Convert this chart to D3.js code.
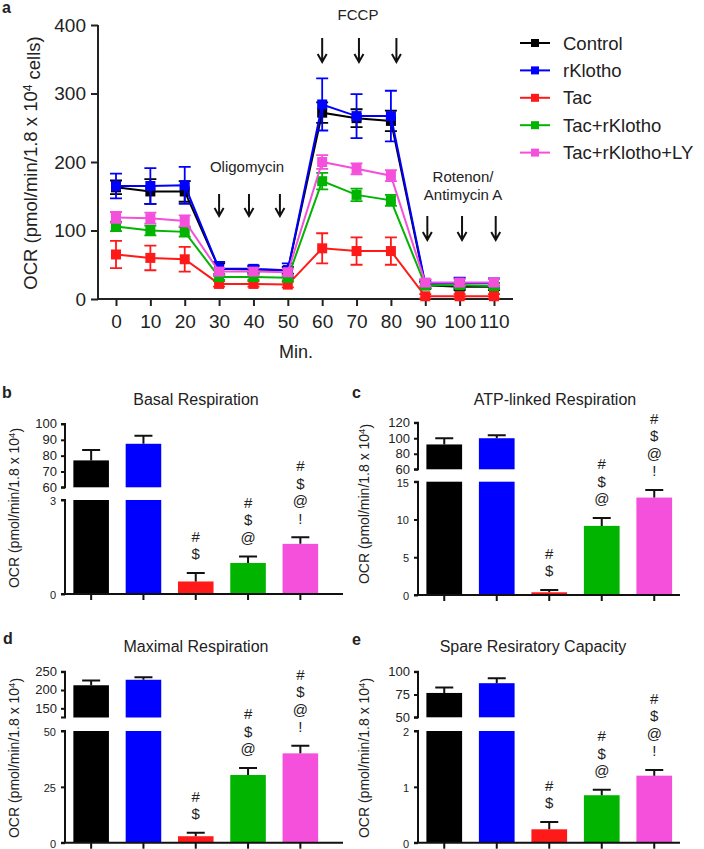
<!DOCTYPE html>
<html><head><meta charset="utf-8">
<script src="https://cdn.jsdelivr.net/npm/d3@7"></script>
<style>
body{margin:0;background:#fff}
text{font-family:"Liberation Sans",Arial,Helvetica,sans-serif;fill:#222}
</style>
</head><body>
<svg id="fig" width="704" height="849"></svg>
<script>
// ---------------- DATA ----------------
const groups = ["Control","rKlotho","Tac","Tac+rKlotho","Tac+rKlotho+LY"];
const groupColors = ["#000000","#0000ff","#ff1a1a","#00b400","#f550dc"];
const timePoints = [0,10,20,30,40,50,60,70,80,90,100,110];
const xTickLabels = ["0","10","20","30","40","50","60","70","80","90","100","110"];
const yTicksA = [0,100,200,300,400];

const ocrControl   = [163,157,157,44,43,42,272,264,260,20,18,18];
const errControl   = [10,18,15,8,5,5,15,13,15,5,5,5];
const ocrRKlotho   = [165,165,166,44,44,42,284,267,267,22,23,23];
const errRKlotho   = [18,26,27,10,5,10,38,32,37,6,8,7];
const ocrTac       = [65,60,58,22,22,21,74,70,70,4,4,4];
const errTac       = [20,18,18,4,4,4,22,20,20,3,3,3];
const ocrTacRK     = [106,100,98,32,32,31,172,152,144,20,20,19];
const errTacRK     = [7,7,7,4,4,4,12,9,8,4,4,4];
const ocrTacRKLY   = [119,118,114,40,40,39,200,190,180,24,24,24];
const errTacRKLY   = [8,8,8,5,5,5,10,8,8,5,5,5];

const oligomycinTimes = [30,38.7,47.7];
const fccpTimes = [60,70.7,81.6];
const rotenonTimes = [90.6,100.7,110.5];

const basalValues = [77,87.5,0.4,0.99,1.6];
const basalErrors = [6.5,5,0.27,0.21,0.21];
const atpValues   = [92,100,0.36,9.15,12.9];
const atpErrors   = [8,4,0.3,1.05,1.0];
const maxValues   = [213,228,2.9,30.3,40];
const maxErrors   = [13,7,1.5,3.1,3.4];
const spareValues = [76.7,87.4,0.24,0.85,1.2];
const spareErrors = [6.1,5.3,0.13,0.1,0.1];

const basalUpperTicks = [60,70,80,90,100], basalLowerTicks = [0,3];
const atpUpperTicks = [60,80,100,120], atpLowerTicks = [0,5,10,15];
const maxUpperTicks = [150,200,250], maxLowerTicks = [0,25,50];
const spareUpperTicks = [50,75,100], spareLowerTicks = [0,1,2];

const sigMarks = [[],[],["#","$"],["#","$","@"],["#","$","@","!"]];

// ---------------- DRAW ----------------
const svg = d3.select("#fig");

// Panel a
const series = [
  {v:ocrControl,e:errControl},{v:ocrRKlotho,e:errRKlotho},{v:ocrTac,e:errTac},
  {v:ocrTacRK,e:errTacRK},{v:ocrTacRKLY,e:errTacRKLY}
];
const xA = d3.scaleLinear().domain([0,110]).range([116,494]);
const yA = d3.scaleLinear().domain([0,400]).range([299,25]);
const gA = svg.append("g");

const yAxA = d3.axisLeft(yA).tickValues(yTicksA).tickSize(7).tickPadding(5).tickFormat(d3.format("d"));
const gy = gA.append("g").attr("transform","translate(98,0)").call(yAxA);
gy.select(".domain").attr("d","M0,25V299");
gy.selectAll("text").style("font-size","19px").attr("fill","#222");
gy.selectAll("line,path").attr("stroke","#222").attr("stroke-width",2);

const xAxA = d3.axisBottom(xA).tickValues(timePoints).tickSize(7).tickPadding(4)
  .tickFormat((d,i)=>xTickLabels[i]);
const gx = gA.append("g").attr("transform","translate(0,299)").call(xAxA);
gx.select(".domain").attr("d","M98,0H513");
gx.selectAll("text").style("font-size","19px").attr("fill","#222").attr("dy","0.95em");
gx.selectAll("line,path").attr("stroke","#222").attr("stroke-width",2);

gA.append("text").attr("x",296).attr("y",358).attr("text-anchor","middle").style("font-size","18px").text("Min.");
const yl = gA.append("text").attr("transform","translate(37,163) rotate(-90)").attr("text-anchor","middle").style("font-size","18.5px");
yl.append("tspan").text("OCR (pmol/min/1.8 x 10");
yl.append("tspan").attr("dy","-0.45em").style("font-size","12px").text("4");
yl.append("tspan").attr("dy","0.45em").text(" cells)");

const line = d3.line().x((d,i)=>xA(timePoints[i])).y(d=>yA(d));
series.forEach((s,k)=>{
  const col = groupColors[k];
  const g = gA.append("g");
  s.v.forEach((v,i)=>{
    const x = xA(timePoints[i]);
    g.append("path").attr("d",`M${x},${yA(v-s.e[i])}V${yA(v+s.e[i])}M${x-6},${yA(v-s.e[i])}h12M${x-6},${yA(v+s.e[i])}h12`)
      .attr("stroke",col).attr("stroke-width",1.8).attr("fill","none");
  });
  g.append("path").attr("d",line(s.v)).attr("stroke",col).attr("stroke-width",2).attr("fill","none");
  g.selectAll("rect").data(s.v).join("rect")
    .attr("x",(d,i)=>xA(timePoints[i])-5).attr("y",d=>yA(d)-5)
    .attr("width",10).attr("height",10).attr("fill",col);
});

function arrows(times,y1,y2){
  times.forEach(t=>{
    const x = xA(t);
    gA.append("path").attr("d",`M${x},${y1}V${y2}M${x-4.5},${y2-8}L${x},${y2}L${x+4.5},${y2-8}`)
      .attr("stroke","#111").attr("stroke-width",2).attr("fill","none");
  });
}
arrows(oligomycinTimes,194,216);
arrows(fccpTimes,38,62);
arrows(rotenonTimes,216,240);
gA.append("text").attr("x",247).attr("y",172).attr("text-anchor","middle").style("font-size","15px").text("Oligomycin");
gA.append("text").attr("x",358).attr("y",20).attr("text-anchor","middle").style("font-size","15px").text("FCCP");
gA.append("text").attr("x",463).attr("y",182).attr("text-anchor","middle").style("font-size","15px").text("Rotenon/");
gA.append("text").attr("x",463).attr("y",200).attr("text-anchor","middle").style("font-size","15px").text("Antimycin A");

const leg = gA.append("g");
groups.forEach((gname,i)=>{
  const y = 43 + i*27.4;
  leg.append("line").attr("x1",520).attr("x2",550).attr("y1",y).attr("y2",y).attr("stroke",groupColors[i]).attr("stroke-width",2);
  leg.append("rect").attr("x",531).attr("y",y-4).attr("width",8).attr("height",8).attr("fill",groupColors[i]);
  leg.append("text").attr("x",563).attr("y",y+6.5).style("font-size","18.5px").text(gname);
});

[["a",2,13],["b",2,398],["c",352,398],["d",3,644],["e",352,645]].forEach(([t,x,y])=>{
  svg.append("text").attr("x",x).attr("y",y).style("font-size","16px").style("font-weight","bold").attr("fill","#000").text(t);
});

function barPanel(o){
  const g = svg.append("g");
  const yU = d3.scaleLinear().domain(o.upDom).range(o.upRange);
  const yL = d3.scaleLinear().domain(o.loDom).range(o.loRange);
  const xB = d3.scaleBand().domain(groups).range(o.xRange).paddingInner(0.32).paddingOuter(0.16);
  const yBase = o.loRange[0];
  o.values.forEach((v,i)=>{
    const x = xB(groups[i]), w = xB.bandwidth(), col = groupColors[i];
    const cx = x+w/2;
    if (v > o.loDom[1]) {
      g.append("rect").attr("x",x).attr("y",yL(o.loDom[1])).attr("width",w).attr("height",yBase-yL(o.loDom[1])).attr("fill",col);
      g.append("rect").attr("x",x).attr("y",yU(v)).attr("width",w).attr("height",yU(o.upDom[0])-yU(v)).attr("fill",col);
      const yt = yU(v+o.errors[i]);
      g.append("path").attr("d",`M${cx},${yU(v)}V${yt}M${cx-9},${yt}h18`).attr("stroke","#111").attr("stroke-width",2).attr("fill","none");
    } else {
      g.append("rect").attr("x",x).attr("y",yL(v)).attr("width",w).attr("height",yBase-yL(v)).attr("fill",col);
      const yt = yL(v+o.errors[i]);
      g.append("path").attr("d",`M${cx},${yL(v)}V${yt}M${cx-9},${yt}h18`).attr("stroke","#111").attr("stroke-width",2).attr("fill","none");
      const marks = sigMarks[i];
      marks.forEach((m,j)=>{
        const yc = yt - 19 - (marks.length-1-j)*17.5;
        g.append("text").attr("x",cx).attr("y",yc).attr("dy","0.36em").attr("text-anchor","middle")
          .style("font-size","15px").text(m);
      });
    }
  });
  const aU = g.append("g").attr("transform",`translate(${o.axisX},0)`)
    .call(d3.axisLeft(yU).tickValues(o.upTicks).tickSize(4).tickPadding(4).tickFormat(d3.format("d")));
  aU.select(".domain").attr("d",`M-4,${o.upRange[1]}H0V${o.upRange[0]}H-4`);
  aU.selectAll("text").style("font-size","13px").attr("fill","#222").attr("dy","0.3em");
  const aL = g.append("g").attr("transform",`translate(${o.axisX},0)`)
    .call(d3.axisLeft(yL).tickValues(o.loTicks).tickSize(4).tickPadding(5).tickFormat(d3.format("d")));
  aL.select(".domain").attr("d",`M-4,${o.loRange[1]}H0V${o.loRange[0]}`);
  aL.selectAll("text").style("font-size","11px").attr("fill","#222").attr("dy","0.4em");
  [aU,aL].forEach(a=>a.selectAll("line,path").attr("stroke","#111").attr("stroke-width",2));
  const ax = g.append("g").attr("transform",`translate(0,${yBase})`)
    .call(d3.axisBottom(xB).tickSize(6).tickFormat(""));
  ax.select(".domain").attr("d",`M${o.axisX-4},0H${o.xEnd}`);
  ax.selectAll("line,path").attr("stroke","#111").attr("stroke-width",2);
  g.append("text").attr("x",o.titleX).attr("y",o.titleY).attr("text-anchor","middle").style("font-size","16px").text(o.title);
  const t = g.append("text").attr("transform",`translate(${o.labX},${o.labY}) rotate(-90)`).attr("text-anchor","middle").style("font-size","14px");
  t.append("tspan").text("OCR (pmol/min/1.8 x 10");
  t.append("tspan").attr("dy","-0.45em").style("font-size","9.5px").text("4");
  t.append("tspan").attr("dy","0.45em").text(")");
}

barPanel({values:basalValues,errors:basalErrors,upDom:[60,100],upRange:[487.3,424],loDom:[0,3],loRange:[594,500],
  upTicks:basalUpperTicks,loTicks:basalLowerTicks,axisX:65,xRange:[65,326.5],xEnd:343,
  title:"Basal Respiration",titleX:196,titleY:405,labX:19,labY:508});
barPanel({values:atpValues,errors:atpErrors,upDom:[60,120],upRange:[469.3,422.7],loDom:[0,15],loRange:[595,481.7],
  upTicks:atpUpperTicks,loTicks:atpLowerTicks,axisX:418,xRange:[418,680.5],xEnd:680,
  title:"ATP-linked Respiration",titleX:555,titleY:405,labX:369,labY:504});
barPanel({values:maxValues,errors:maxErrors,upDom:[125,250],upRange:[717.5,671.7],loDom:[0,50],loRange:[842.7,731],
  upTicks:maxUpperTicks,loTicks:maxLowerTicks,axisX:65,xRange:[65,326.5],xEnd:343,
  title:"Maximal Respiration",titleX:196,titleY:652,labX:19,labY:758});
barPanel({values:spareValues,errors:spareErrors,upDom:[50,100],upRange:[717.3,671.7],loDom:[0,2],loRange:[842.7,731],
  upTicks:spareUpperTicks,loTicks:spareLowerTicks,axisX:418,xRange:[418,680.5],xEnd:680,
  title:"Spare Resiratory Capacity",titleX:533,titleY:652,labX:369,labY:758});
</script>
</body></html>
